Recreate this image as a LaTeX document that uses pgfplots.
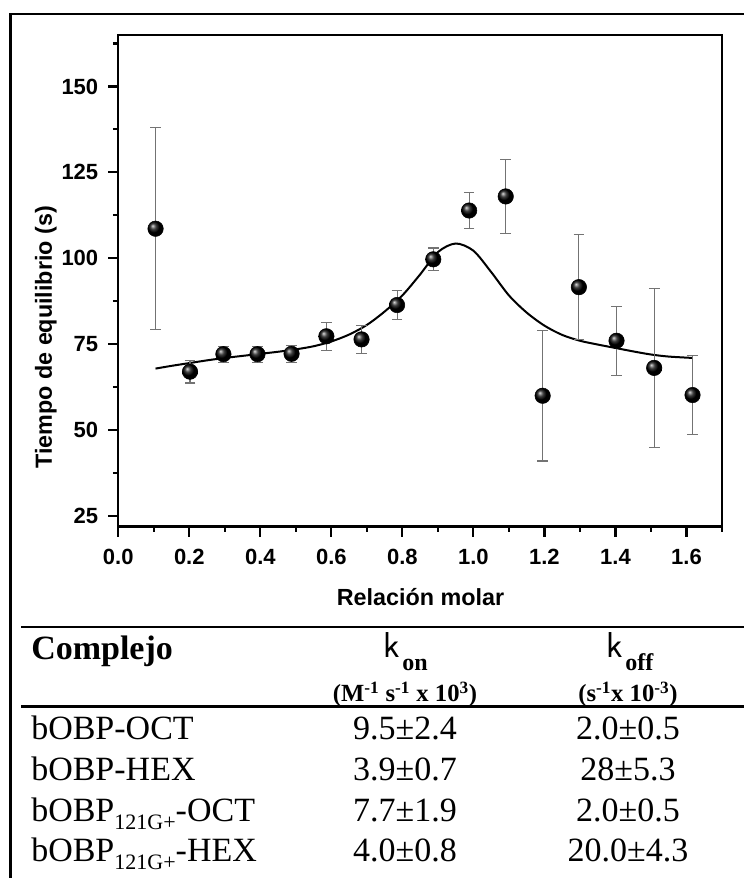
\documentclass[border=0pt]{standalone}
\usepackage{fontspec}
\setmainfont{Liberation Serif}
\setsansfont{Liberation Sans}
\usepackage{pgfplots}
\pgfplotsset{compat=1.18}
\pgfplotstableread{
x y e
0.105 108.6 29.4
0.202 67.0 3.3
0.296 72.1 2.3
0.392 72.1 2.3
0.488 72.2 2.4
0.586 77.3 4.1
0.685 76.4 4.1
0.785 86.4 4.1
0.887 99.7 3.3
0.988 113.9 5.3
1.091 118.0 10.7
1.195 60.0 19.0
1.297 91.6 15.2
1.403 76.0 10.0
1.509 68.1 23.1
1.617 60.2 11.4
}\datatable
\pgfplotstableread{
x y
0.105 67.9
0.15 68.7
0.20 69.5
0.25 70.3
0.30 71.0
0.35 71.6
0.40 72.2
0.45 72.8
0.50 73.5
0.55 74.4
0.60 75.8
0.65 77.8
0.70 80.6
0.75 84.5
0.80 89.2
0.85 95.3
0.90 101.8
0.95 104.3
1.00 102.2
1.05 96.0
1.10 89.2
1.15 84.2
1.20 80.4
1.25 77.7
1.30 76.0
1.35 74.9
1.40 73.9
1.45 72.9
1.50 72.0
1.55 71.4
1.617 71.0
}\fittable
\begin{document}
\begin{tikzpicture}
\path[use as bounding box] (0,0) rectangle (557.25pt,658.5pt);
\begin{axis}[
  at={(88.7pt,263.5pt)}, anchor=south west,
  scale only axis, width=452.8pt, height=368.8pt,
  xmin=0, xmax=1.7, ymin=21.9, ymax=165,
  xtick={0,0.2,0.4,0.6,0.8,1.0,1.2,1.4,1.6},
  minor xtick={0.1,0.3,0.5,0.7,0.9,1.1,1.3,1.5,1.7},
  ytick={25,50,75,100,125,150},
  minor ytick={37.5,62.5,87.5,112.5,137.5,162.5},
  tick align=outside, tick pos=left,
  major tick length=7.5pt, minor tick length=4pt,
  tick style={line width=1.6pt, black},
  axis line style={line width=1.8pt},
  /pgf/number format/assume math mode=true,
  ticklabel style={font=\fontsize{16.5}{18}\selectfont\sffamily\bfseries},
  xticklabel style={yshift=-6pt, /pgf/number format/.cd, fixed, fixed zerofill, precision=1},
  yticklabel style={xshift=-4pt},
  xlabel={Relación molar}, ylabel={Tiempo de equilibrio (s)},
  label style={font=\fontsize{17.5}{19}\selectfont\sffamily\bfseries},
  xlabel style={at={(axis description cs:0.5006,-0.16)}, anchor=base},
  ylabel style={at={(axis description cs:-0.1098,0.385)}, anchor=base},
  clip=false,
]
\addplot[smooth, black, line width=1.5pt] table[x=x, y=y] {\fittable};
\addplot[only marks, mark=ball, mark size=5.8pt, ball color=black,
  mark options={ball color=black},
  error bars/.cd, y dir=both, y explicit,
  error bar style={black!55, line width=0.8pt},
  error mark options={rotate=90, mark size=4pt, black!55, line width=0.8pt}]
  table[x=x, y=y, y error=e] {\datatable};
\end{axis}
\begin{scope}[x=0.75pt, y=-0.75pt, shift={(0pt,658.5pt)}]
\draw[line width=2.2pt] (10.4,900) -- (10.4,14) -- (770,14);
\draw[line width=1.8pt] (21,627) -- (770,627);
\draw[line width=1.8pt] (21,706.7) -- (770,706.7);
\node[anchor=base west, inner sep=0pt, font=\fontsize{25.5}{28}\selectfont\bfseries] at (31,660) {Complejo};
\node[anchor=base west, inner sep=0pt, font=\fontsize{27}{29}\selectfont\fontspec{Latin Modern Sans}] at (383,658) {k};
\node[anchor=base west, inner sep=0pt, font=\fontsize{18}{20}\selectfont\bfseries] at (402,671) {on};
\node[anchor=base west, inner sep=0pt, font=\fontsize{27}{29}\selectfont\fontspec{Latin Modern Sans}] at (606,658) {k};
\node[anchor=base west, inner sep=0pt, font=\fontsize{18}{20}\selectfont\bfseries] at (625,671) {off};
\node[anchor=base, inner sep=0pt, font=\fontsize{18.5}{20}\selectfont\bfseries] at (405,702) {(M\textsuperscript{-1} s\textsuperscript{-1} x 10\textsuperscript{3})};
\node[anchor=base, inner sep=0pt, font=\fontsize{18.5}{20}\selectfont\bfseries] at (628,702) {(s\textsuperscript{-1}x 10\textsuperscript{-3})};
\begin{scope}[every node/.style={inner sep=0pt, font=\fontsize{25.5}{28}\selectfont}]
\node[anchor=base west] at (31,740) {bOBP-OCT};
\node[anchor=base west] at (31,780.7) {bOBP-HEX};
\node[anchor=base west] at (31,821.7) {bOBP\raisebox{-6pt}{\fontsize{16.5}{18}\selectfont 121G+}-OCT};
\node[anchor=base west] at (31,861.7) {bOBP\raisebox{-6pt}{\fontsize{16.5}{18}\selectfont 121G+}-HEX};
\node[anchor=base] at (405,740) {9.5±2.4};
\node[anchor=base] at (405,780.7) {3.9±0.7};
\node[anchor=base] at (405,821.7) {7.7±1.9};
\node[anchor=base] at (405,861.7) {4.0±0.8};
\node[anchor=base] at (628,740) {2.0±0.5};
\node[anchor=base] at (628,780.7) {28±5.3};
\node[anchor=base] at (628,821.7) {2.0±0.5};
\node[anchor=base] at (628,861.7) {20.0±4.3};
\end{scope}
\end{scope}
\end{tikzpicture}
\end{document}
